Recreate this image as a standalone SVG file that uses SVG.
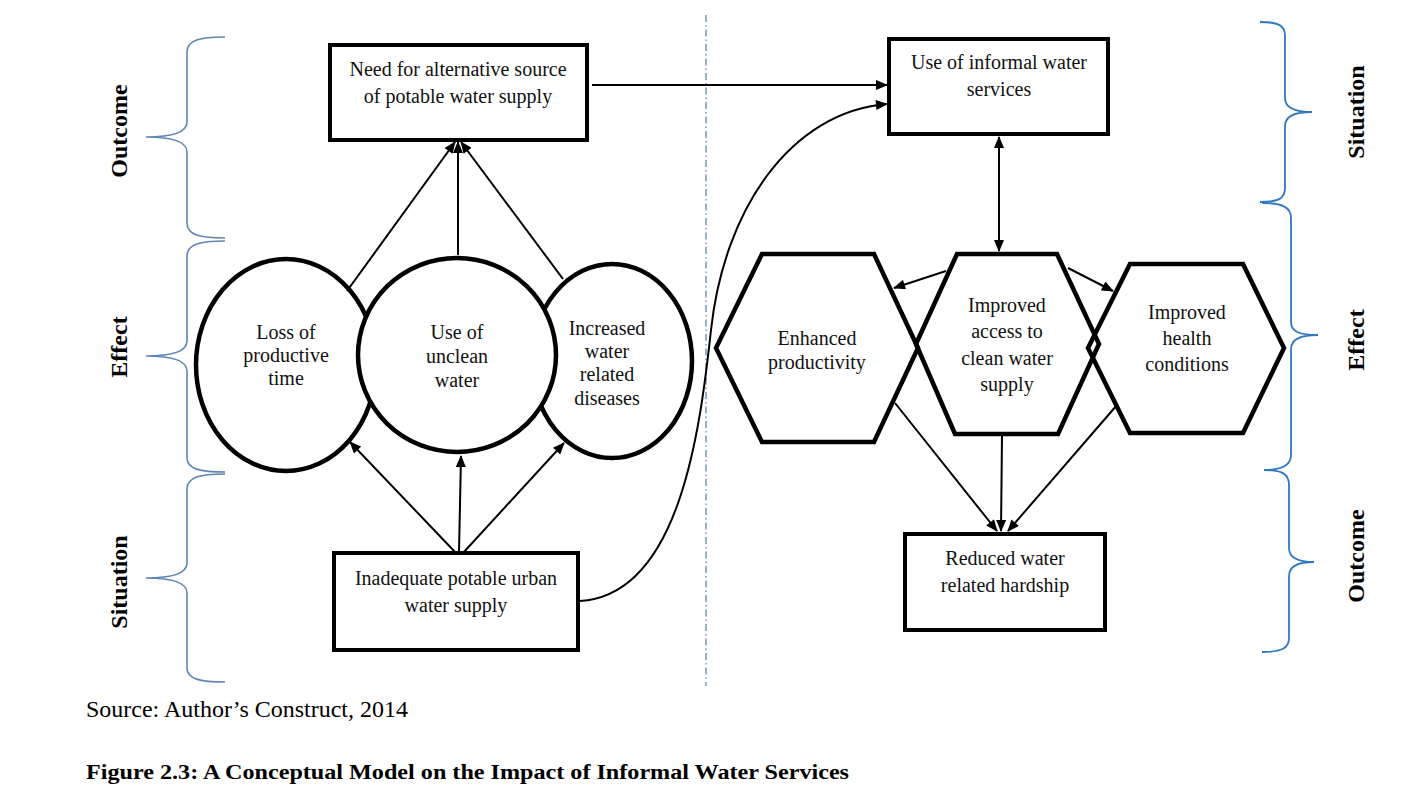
<svg xmlns="http://www.w3.org/2000/svg" width="1408" height="807" viewBox="0 0 1408 807">
<style>
.bg{fill:#ffffff}
.box{fill:#ffffff;stroke:#000;stroke-width:4}
.shape{fill:#ffffff;stroke:#000;stroke-width:4.5}
.hex{fill:none;stroke:#000;stroke-width:4.5}
.t{font-family:"Liberation Serif","Times New Roman",serif;font-size:20px;fill:#111;text-anchor:middle}
.lab{font-family:"Liberation Serif","Times New Roman",serif;font-size:24px;font-weight:bold;fill:#000;text-anchor:middle}
.braceL{fill:none;stroke:#5f86b3;stroke-width:1.6}
.braceR{fill:none;stroke:#2f78c0;stroke-width:1.8}
.arr{fill:none;stroke:#000;stroke-width:2}
.div{fill:none;stroke:#5f86b3;stroke-width:1.3;stroke-dasharray:7 3 1.5 3}
.src{font-family:"Liberation Serif","Times New Roman",serif;font-size:23px;fill:#000}
.cap{font-family:"Liberation Serif","Times New Roman",serif;font-size:22px;font-weight:bold;fill:#000}
</style>
<defs>
<marker id="ah" viewBox="0 0 12 10" refX="11" refY="5" markerWidth="13" markerHeight="10" markerUnits="userSpaceOnUse" orient="auto-start-reverse">
<path d="M0,0 L12,5 L0,10 Z" fill="#000"/>
</marker>
</defs>
<rect class="bg" x="0" y="0" width="1408" height="807"/>

<g id="braces">
<path class="braceL" d="M225,37 C200,37 187,40 187,52 L187,122 C187,133 170,137 146,137 C170,137 187,141 187,152 L187,223 C187,235 200,238 225,238"/>
<path class="braceL" d="M225,241 C200,241 187,244 187,256 L187,341 C187,352 170,356 146,356 C170,356 187,360 187,371 L187,458 C187,469 200,472 225,472"/>
<path class="braceL" d="M225,474 C200,474 187,477 187,489 L187,563 C187,574 170,578 146,578 C170,578 187,582 187,593 L187,668 C187,679 200,682 225,682"/>
<path class="braceR" d="M1260,22 C1278,22 1285,25 1285,36 L1285,98 C1285,108 1295,112 1312,112 C1295,112 1285,116 1285,126 L1285,188 C1285,199 1278,202 1260,202"/>
<path class="braceR" d="M1262,203 C1282,203 1291,207 1291,218 L1291,322 C1291,332 1300,335 1318,335 C1300,335 1291,339 1291,349 L1291,455 C1291,465 1282,470 1264,470"/>
<path class="braceR" d="M1264,470 C1282,470 1289,474 1289,485 L1289,548 C1289,558 1298,562 1314,562 C1298,562 1289,566 1289,576 L1289,638 C1289,648 1282,652 1262,652"/>
</g>

<g id="side-labels">
<text class="lab" transform="translate(127,131) rotate(-90)">Outcome</text>
<text class="lab" transform="translate(127,347) rotate(-90)">Effect</text>
<text class="lab" transform="translate(127,582) rotate(-90)">Situation</text>
<text class="lab" transform="translate(1364,112) rotate(-90)">Situation</text>
<text class="lab" transform="translate(1364,340) rotate(-90)">Effect</text>
<text class="lab" transform="translate(1364,556) rotate(-90)">Outcome</text>
</g>

<line id="divider" class="div" x1="706" y1="15" x2="706" y2="686"/>

<g id="n-need">
<rect class="box" x="330" y="45" width="257" height="95"/>
<text class="t" x="458" y="76">Need for alternative source</text>
<text class="t" x="458" y="103">of potable water supply</text>
</g>

<g id="n-informal">
<rect class="box" x="889" y="39" width="219" height="95"/>
<text class="t" x="999" y="69">Use of informal water</text>
<text class="t" x="999" y="96">services</text>
</g>

<g id="n-inadequate">
<rect class="box" x="334" y="553" width="244" height="97"/>
<text class="t" x="456" y="585">Inadequate potable urban</text>
<text class="t" x="456" y="612">water supply</text>
</g>

<g id="n-reduced">
<rect class="box" x="905" y="534" width="200" height="96"/>
<text class="t" x="1005" y="565">Reduced water</text>
<text class="t" x="1005" y="592">related hardship</text>
</g>

<g id="n-loss">
<ellipse class="shape" cx="286" cy="365" rx="90" ry="106"/>
<text class="t" x="286" y="339">Loss of</text>
<text class="t" x="286" y="362">productive</text>
<text class="t" x="286" y="385">time</text>
</g>

<g id="n-diseases">
<ellipse class="shape" cx="612" cy="361" rx="80" ry="97"/>
<text class="t" x="607" y="335">Increased</text>
<text class="t" x="607" y="358">water</text>
<text class="t" x="607" y="381">related</text>
<text class="t" x="607" y="405">diseases</text>
</g>

<g id="n-unclean">
<ellipse class="shape" cx="457" cy="355" rx="99" ry="97"/>
<text class="t" x="457" y="339">Use of</text>
<text class="t" x="457" y="363">unclean</text>
<text class="t" x="457" y="387">water</text>
</g>

<g id="n-enhanced">
<polygon class="hex" points="716,348 762,254 874,254 918,348 874,442 762,442"/>
<text class="t" x="817" y="345">Enhanced</text>
<text class="t" x="817" y="369">productivity</text>
</g>

<g id="n-health">
<polygon class="hex" points="1088,348 1130,264 1243,264 1284,348 1243,433 1130,433"/>
<text class="t" x="1187" y="319">Improved</text>
<text class="t" x="1187" y="345">health</text>
<text class="t" x="1187" y="371">conditions</text>
</g>

<g id="n-access">
<polygon class="hex" points="916,344 957,254 1057,254 1099,344 1058,434 955,434"/>
<text class="t" x="1007" y="312">Improved</text>
<text class="t" x="1007" y="338">access to</text>
<text class="t" x="1007" y="365">clean water</text>
<text class="t" x="1007" y="391">supply</text>
</g>

<g id="connectors">
<line class="arr" x1="347" y1="291" x2="455" y2="142" marker-end="url(#ah)"/>
<line class="arr" x1="458" y1="255" x2="458" y2="142" marker-end="url(#ah)"/>
<line class="arr" x1="563" y1="279" x2="461" y2="142" marker-end="url(#ah)"/>
<line class="arr" x1="456" y1="553" x2="350" y2="442" marker-end="url(#ah)"/>
<line class="arr" x1="459" y1="553" x2="461" y2="456" marker-end="url(#ah)"/>
<line class="arr" x1="463" y1="553" x2="564" y2="443" marker-end="url(#ah)"/>
<line class="arr" x1="592" y1="85" x2="887" y2="85" marker-end="url(#ah)"/>
<path class="arr" d="M580,601 C680,595 700,430 711,330 C724,210 790,112 887,104" marker-end="url(#ah)"/>
<line class="arr" x1="999" y1="137" x2="999" y2="251" marker-start="url(#ah)" marker-end="url(#ah)"/>
<line class="arr" x1="946" y1="271" x2="894" y2="288" marker-end="url(#ah)"/>
<line class="arr" x1="1068" y1="268" x2="1113" y2="291" marker-end="url(#ah)"/>
<line class="arr" x1="895" y1="403" x2="997" y2="531" marker-end="url(#ah)"/>
<line class="arr" x1="1002" y1="436" x2="1001" y2="531" marker-end="url(#ah)"/>
<line class="arr" x1="1117" y1="405" x2="1008" y2="531" marker-end="url(#ah)"/>
</g>

<g id="footer">
<text class="src" x="86" y="717" textLength="322" lengthAdjust="spacingAndGlyphs">Source: Author’s Construct, 2014</text>
<text class="cap" x="86" y="779" textLength="763" lengthAdjust="spacingAndGlyphs">Figure 2.3: A Conceptual Model on the Impact of Informal Water Services</text>
</g>
</svg>
